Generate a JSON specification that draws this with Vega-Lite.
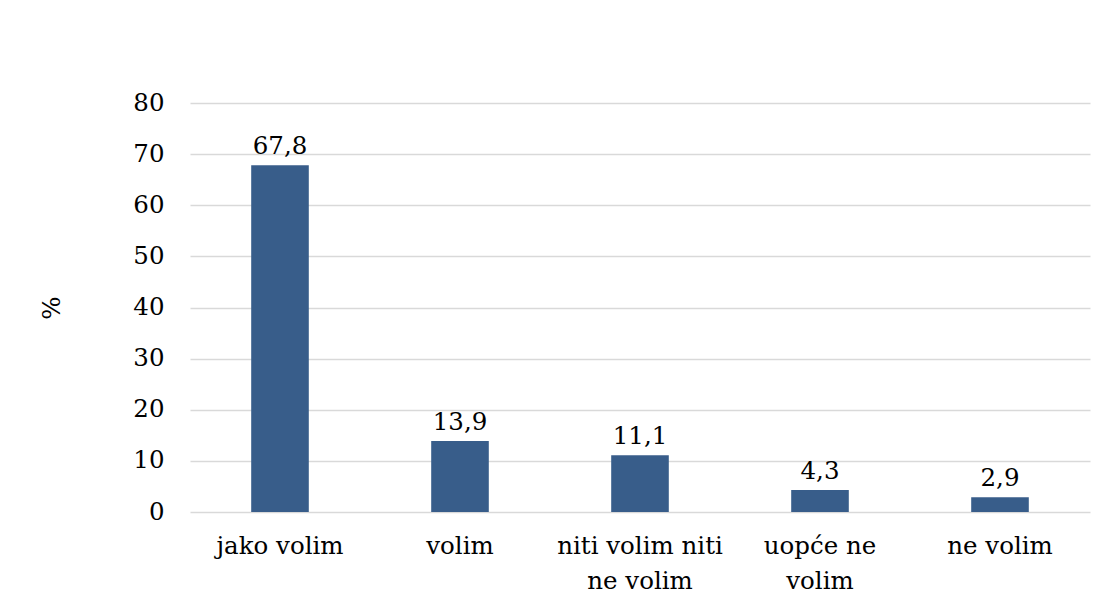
{
  "$schema": "https://vega.github.io/schema/vega-lite/v6.json",
  "autosize": {"type": "none"},
  "width": 900,
  "height": 409,
  "padding": {"left": 190, "top": 103, "right": 20, "bottom": 103},
  "background": "white",
  "config": {
    "view": {"stroke": null},
    "font": "DejaVu Serif",
    "locale": {"number": {"decimal": ",", "thousands": ".", "grouping": [3], "currency": ["", " €"]}}
  },
  "data": {
    "values": [
      {"odgovor": "jako volim", "postotak": 67.8},
      {"odgovor": "volim", "postotak": 13.9},
      {"odgovor": "niti volim niti ne volim", "postotak": 11.1},
      {"odgovor": "uopće ne volim", "postotak": 4.3},
      {"odgovor": "ne volim", "postotak": 2.9}
    ]
  },
  "encoding": {
    "x": {
      "field": "odgovor",
      "type": "nominal",
      "sort": null,
      "scale": {"paddingInner": 0.68, "paddingOuter": 0.34},
      "axis": {
        "title": null,
        "labelAngle": 0,
        "labelFontSize": 24.5,
        "labelColor": "#000000",
        "labelPadding": 22,
        "labelLineHeight": 35,
        "ticks": false,
        "domain": false,
        "labelExpr": "datum.label == 'niti volim niti ne volim' ? ['niti volim niti', 'ne volim'] : datum.label == 'uopće ne volim' ? ['uopće ne', 'volim'] : datum.label"
      }
    },
    "y": {
      "field": "postotak",
      "type": "quantitative",
      "scale": {"domain": [0, 80]},
      "axis": {
        "title": "%",
        "titleFontSize": 24.5,
        "titleFontWeight": "normal",
        "titleColor": "#000000",
        "titlePadding": 68,
        "values": [0, 10, 20, 30, 40, 50, 60, 70, 80],
        "labelFontSize": 24.5,
        "labelColor": "#000000",
        "labelPadding": 26,
        "ticks": false,
        "domain": false,
        "gridColor": "#D9D9D9",
        "gridWidth": 1.5
      }
    }
  },
  "layer": [
    {"mark": {"type": "bar", "color": "#385D8A"}},
    {
      "mark": {"type": "text", "baseline": "bottom", "dy": -6, "fontSize": 24.5, "color": "#000000"},
      "encoding": {"text": {"field": "postotak", "type": "quantitative", "format": ".1f"}}
    }
  ]
}
